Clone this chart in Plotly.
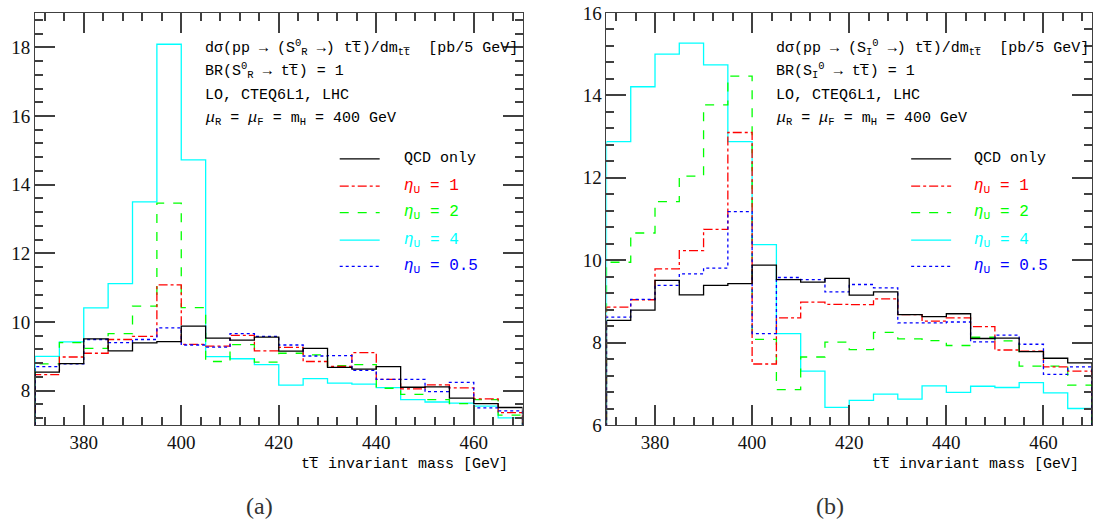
import plotly.graph_objects as go

# m_tt bins: 5 GeV wide, 370-470 GeV
bin_low = 370
bin_width = 5
n_bins = 20
mass_edges = [bin_low + bin_width * i for i in range(n_bins + 1)]

# QCD-only background [pb/5 GeV] (same in both panels)
qcd = [8.54, 8.79, 9.51, 9.16, 9.39, 9.43, 9.88, 9.53, 9.47, 9.56,
       9.15, 9.23, 8.68, 8.63, 8.70, 8.10, 8.11, 7.78, 7.62, 7.51]

# (a) scalar S_R^0
a_eta1 = [8.47, 8.98, 9.09, 9.49, 9.58, 11.08, 9.35, 9.30, 9.61, 9.16,
          9.26, 8.85, 8.71, 9.11, 8.33, 8.05, 8.17, 8.08, 7.76, 7.36]
a_eta2 = [8.78, 9.40, 9.23, 9.66, 10.46, 13.46, 10.42, 8.85, 9.34, 8.83,
          9.09, 9.04, 8.73, 8.76, 8.07, 7.89, 7.74, 7.62, 7.74, 7.29]
a_eta4 = [9.00, 9.42, 10.41, 11.12, 13.50, 18.09, 14.72, 8.99, 8.93, 8.76,
          8.16, 8.35, 8.22, 8.19, 8.09, 7.74, 7.67, 7.64, 7.55, 7.21]
a_eta05 = [8.70, 8.78, 9.49, 9.40, 9.49, 9.83, 9.33, 9.27, 9.66, 9.58,
           9.33, 9.01, 9.02, 8.59, 8.33, 8.33, 7.97, 8.24, 7.50, 7.41]

# (b) pseudoscalar S_I^0
b_eta1 = [8.86, 9.04, 9.79, 10.23, 10.75, 13.10, 7.48, 8.60, 8.98, 8.93,
          8.92, 9.06, 8.68, 8.52, 8.60, 8.39, 7.82, 7.79, 7.41, 7.31]
b_eta2 = [9.95, 10.66, 11.42, 12.04, 13.77, 14.47, 8.08, 6.86, 7.65, 8.01,
          7.83, 8.25, 8.09, 8.05, 7.93, 8.13, 8.04, 7.43, 7.43, 6.97]
b_eta4 = [12.88, 14.21, 15.00, 15.27, 14.74, 12.88, 10.38, 8.22, 7.31, 6.43,
          6.60, 6.75, 6.63, 6.95, 6.79, 6.94, 6.91, 7.03, 6.78, 6.40]
b_eta05 = [8.62, 9.05, 9.39, 9.67, 9.81, 11.18, 8.22, 9.58, 9.53, 9.23,
           9.41, 9.33, 8.48, 8.48, 8.50, 8.02, 8.18, 7.96, 7.23, 7.41]

legend_labels = ["QCD only", "<i>η</i><sub>U</sub> = 1", "<i>η</i><sub>U</sub> = 2",
                 "<i>η</i><sub>U</sub> = 4", "<i>η</i><sub>U</sub> = 0.5"]
series_colors = ["#000000", "#ff0000", "#00ff00", "#00ffff", "#0000ff"]
series_dashes = ["solid", "dashdot", "dash", "solid", "dot"]

TT = "tt\u0305"
MONO = "Liberation Mono, Courier New, monospace"
SERIF = "Liberation Serif, Times New Roman, serif"

W, H = 1096, 529
ML, MR, MT, MB = 35, 3, 4, 104
PW, PH = W - ML - MR, H - MT - MB


def px(x):
    return (x - ML) / PW


def py(y):
    return (H - MB - y) / PH


def step(values):
    # closed histogram outline: rise from the baseline, steps, drop back down
    xs = [mass_edges[0]] + mass_edges[:-1] + [mass_edges[-1], mass_edges[-1]]
    ys = [0] + list(values) + [values[-1], 0]
    return xs, ys


fig = go.Figure()

panels = [
    ("x", "y", [qcd, a_eta1, a_eta2, a_eta4, a_eta05]),
    ("x2", "y2", [qcd, b_eta1, b_eta2, b_eta4, b_eta05]),
]
for xa, ya, series in panels:
    # draw order: cyan and green underneath, black on top
    for idx in [3, 2, 1, 4, 0]:
        xs, ys = step(series[idx])
        fig.add_trace(go.Scatter(
            x=xs, y=ys, xaxis=xa, yaxis=ya, mode="lines",
            line=dict(shape="hv", color=series_colors[idx],
                      dash=series_dashes[idx], width=1.3),
            showlegend=False))

FRAME = "#404040"
NOGRID = "rgba(0,0,0,0)"

# axis settings kept lean: tick labels take the layout font
x_common = dict(range=[370, 470], dtick=20,
                ticks="inside", ticklen=20, tickwidth=2, tickcolor=FRAME,
                minor=dict(ticks="inside", ticklen=8, dtick=4, tickcolor=FRAME),
                showline=True, linecolor=FRAME, mirror="ticks",
                gridcolor=NOGRID)
y_common = dict(dtick=2,
                ticks="inside", ticklen=20, tickwidth=2, tickcolor=FRAME,
                minor=dict(ticks="inside", ticklen=8, dtick=0.4, tickcolor=FRAME),
                showline=True, linecolor=FRAME, mirror="ticks",
                gridcolor=NOGRID)

annotations = []
shapes = []

header_a = [
    f"dσ(pp → (S<sup>0</sup><sub>R</sub> →) {TT})/dm<sub>{TT}</sub>\u00a0\u00a0[pb/5 GeV]",
    "BR(S<sup>0</sup><sub>R</sub> → " + TT + ") = 1",
    "LO, CTEQ6L1, LHC",
    "<i>μ</i><sub>R</sub> = <i>μ</i><sub>F</sub> = m<sub>H</sub> = 400 GeV",
]
header_b = [
    f"dσ(pp → (S<sub>I</sub><sup>0</sup> →) {TT})/dm<sub>{TT}</sub>\u00a0\u00a0[pb/5 GeV]",
    "BR(S<sub>I</sub><sup>0</sup> → " + TT + ") = 1",
    "LO, CTEQ6L1, LHC",
    "<i>μ</i><sub>R</sub> = <i>μ</i><sub>F</sub> = m<sub>H</sub> = 400 GeV",
]
header_rows = [39, 63, 88, 112]
legend_rows = [153, 181, 208, 236, 263]

for hx, hdr, lx0, lx1, tx, title_right, tag, tag_x in [
    (203, header_a, 340, 380, 402, 510, "(a)", 260),
    (775, header_b, 912, 952, 973, 1082, "(b)", 831),
]:
    for row_y, txt in zip(header_rows, hdr):
        annotations.append(dict(
            x=px(hx), y=py(row_y), xref="paper", yref="paper",
            xanchor="left", yanchor="middle", text=txt, showarrow=False,
            font=dict(family=MONO, size=15, color="#000")))
    for k, row_y in enumerate(legend_rows):
        shapes.append(dict(
            type="line", xref="paper", yref="paper",
            x0=px(lx0), x1=px(lx1), y0=py(row_y), y1=py(row_y),
            line=dict(color=series_colors[k], dash=series_dashes[k], width=1.3)))
        annotations.append(dict(
            x=px(tx), y=py(row_y), xref="paper", yref="paper",
            xanchor="left", yanchor="middle", text=legend_labels[k],
            showarrow=False,
            font=dict(family=MONO, size=16 if k else 15, color=series_colors[k])))
    annotations.append(dict(
        x=px(title_right), y=py(465), xref="paper", yref="paper",
        xanchor="right", yanchor="middle",
        text=TT + " invariant mass [GeV]", showarrow=False,
        font=dict(family=MONO, size=15, color="#000")))
    annotations.append(dict(
        x=px(tag_x), y=py(508), xref="paper", yref="paper",
        xanchor="center", yanchor="middle", text=tag, showarrow=False,
        font=dict(family=SERIF, size=24, color="#333")))

fig.update_layout(
    width=W, height=H,
    margin=dict(l=ML, r=MR, t=MT, b=MB),
    font=dict(family=SERIF, size=19, color="#111"),
    plot_bgcolor="white",
    showlegend=False,
    xaxis=dict(domain=[0, px(523)], **x_common),
    yaxis=dict(range=[7, 19], **y_common),
    xaxis2=dict(domain=[px(607), 1], anchor="y2", **x_common),
    yaxis2=dict(range=[6, 16], anchor="x2", ticklabeloverflow="allow", **y_common),
    annotations=annotations, shapes=shapes,
)

fig.write_html("out.html")
